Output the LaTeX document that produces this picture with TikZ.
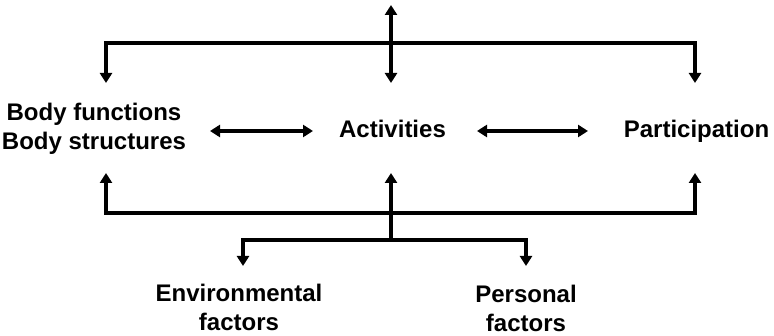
\documentclass[tikz,border=0pt]{standalone}
\usepackage{fontspec}
\setmainfont{Liberation Sans}
\usetikzlibrary{arrows.meta}
\begin{document}
\begin{tikzpicture}[x=1pt,y=-1pt,
  lbl/.style={font=\bfseries\fontsize{24}{29}\selectfont, align=center, inner sep=0pt, text=black},
  tip/.style={Triangle[width=12pt,length=10pt]},
  link/.style={line width=3.3pt, -{Triangle[width=12pt,length=10pt]}},
  dbl/.style={line width=3.3pt, {Triangle[width=12pt,length=10pt]}-{Triangle[width=12pt,length=10pt]}}]
\useasboundingbox (0,0) rectangle (774,336);
% text nodes
\node[lbl] (body) at (94,128.5) {Body functions\\Body structures};
\node[lbl] (act) at (392.5,129) {Activities};
\node[lbl] (part) at (696.5,131.5) {Participation};
\node[lbl] (env) at (239,307) {Environmental\\factors};
\node[lbl] (pers) at (526,308) {Personal\\factors};
% junctions and arrow ends
\coordinate (tJ) at (391,43);
\coordinate (topTip) at (391,5);
\coordinate (bodyIn) at (106,83);
\coordinate (actIn) at (391,83);
\coordinate (partIn) at (695,83);
\coordinate (bJ) at (391,213);
\coordinate (bodyOut) at (106,173);
\coordinate (actOut) at (391,173);
\coordinate (partOut) at (695,173);
\coordinate (lJ) at (391,240);
\coordinate (envIn) at (243,266);
\coordinate (persIn) at (526,266);
\coordinate (baL) at (210,131);
\coordinate (baR) at (313,131);
\coordinate (apL) at (477,131);
\coordinate (apR) at (588,131);
% upper bracket
\draw[dbl] (topTip) -- (actIn);
\draw[link] (tJ) -| (bodyIn);
\draw[link] (tJ) -| (partIn);
% lower bracket
\draw[link] (lJ) -- (actOut);
\draw[link] (bJ) -| (bodyOut);
\draw[link] (bJ) -| (partOut);
\draw[link] (lJ) -| (envIn);
\draw[link] (lJ) -| (persIn);
% horizontal links
\draw[dbl] (baL) -- (baR);
\draw[dbl] (apL) -- (apR);
\end{tikzpicture}
\end{document}
